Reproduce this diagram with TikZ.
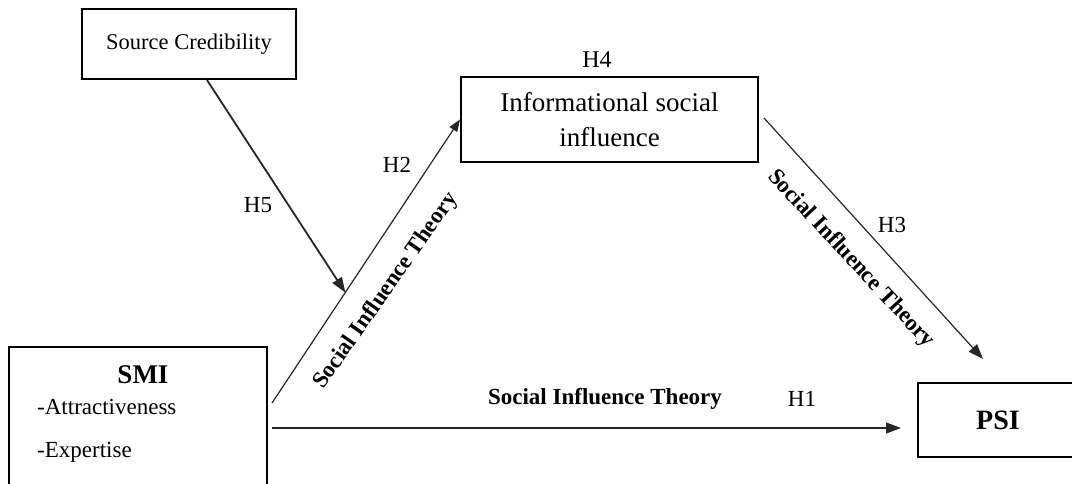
\documentclass[tikz,border=0pt]{standalone}
\usepackage{fontspec}
\setmainfont{Liberation Serif}
\usetikzlibrary{arrows.meta,calc}
\tikzset{
  box/.style={draw=black, line width=2pt, rectangle, inner sep=0pt},
  conn/.style={draw=black!85, line width=1.2pt, -{Triangle[length=15pt,width=11pt]}},
  lbl/.style={inner sep=0pt, font=\fontsize{23}{27}\selectfont},
  blbl/.style={inner sep=0pt, font=\fontsize{23}{27}\selectfont\bfseries},
}
\begin{document}
\begin{tikzpicture}[x=1pt,y=-1pt]
\clip (0,0) rectangle (1072,483);
\useasboundingbox (0,0) rectangle (1072,483);
% boxes
\node[box, minimum width=214pt, minimum height=70pt, font=\fontsize{22.5}{26}\selectfont] (sc) at (189,44) {Source Credibility};
\node[box, minimum width=297pt, minimum height=85pt, align=center, font=\fontsize{27}{35}\selectfont] (isi) at (609.5,119.5) {Informational social\\influence};
\node[box, minimum width=258pt, minimum height=170pt] (smi) at (138,432) {};
\node[box, minimum width=160pt, minimum height=74pt] (psi) at (998,420) {};
% box texts
\node[inner sep=0pt, font=\fontsize{27}{30}\selectfont\bfseries] (smit) at (143,375) {SMI};
\node[lbl, anchor=west] (attr) at (37,407) {-Attractiveness};
\node[lbl, anchor=west] (expt) at (37,452) {-Expertise};
\node[inner sep=0pt, font=\fontsize{28}{30}\selectfont\bfseries] (psit) at (998,420) {PSI};
% connector coordinates
\coordinate (a) at ([shift={(4,57)}]smi.north east);
\coordinate (m) at ($(a)!0.39!(isi.west)$);
% connectors
\draw[conn, -{Triangle[length=12pt,width=9pt]}] (a) -- (isi.west);
\draw[conn, line width=1.8pt] ([xshift=18pt]sc.south) -- (m);
\draw[conn] ([xshift=5pt,yshift=1.5pt]isi.east) -- ([shift={(-15,-23)}]psi.north);
\draw[conn] ([shift={(4,82)}]smi.north east) -- ([shift={(-16,46)}]psi.north west);
% labels
\node[lbl, font=\fontsize{24}{27}\selectfont] (h4) at (597,60) {H4};
\node[lbl] (h2) at (397,165) {H2};
\node[lbl] (h5) at (258,205) {H5};
\node[lbl] (h3) at (892,225) {H3};
\node[lbl] (h1) at (802,399) {H1};
\node[blbl] (sit1) at (605,399) {Social Influence Theory};
\node[blbl, rotate=55] (sit2) at (386,291) {Social Influence Theory};
\node[blbl, rotate=-47] (sit3) at (851,259) {Social Influence Theory};
\end{tikzpicture}
\end{document}
